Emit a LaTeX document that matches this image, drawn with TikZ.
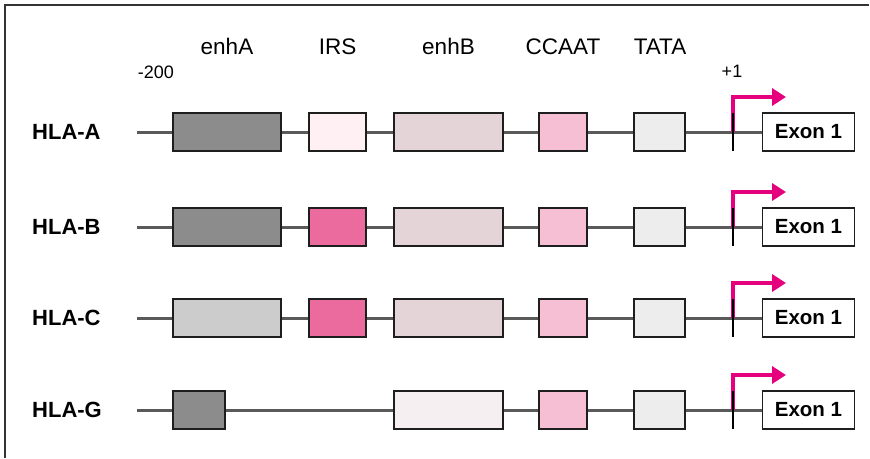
\documentclass[tikz,border=0pt]{standalone}
\usepackage{fontspec}
\setmainfont{Liberation Sans}
\usetikzlibrary{arrows.meta}
\definecolor{linegray}{HTML}{5A5A5A}
\definecolor{framegray}{HTML}{333333}
\definecolor{boxedge}{HTML}{1E1E1E}
\definecolor{dkgray}{HTML}{8C8C8C}
\definecolor{ltgray}{HTML}{CCCCCC}
\definecolor{palepink}{HTML}{FFF0F3}
\definecolor{hotpink}{HTML}{EC6B9E}
\definecolor{dustpink}{HTML}{E4D4D8}
\definecolor{whitepink}{HTML}{F6EFF1}
\definecolor{softpink}{HTML}{F7BFD3}
\definecolor{tatagray}{HTML}{EDEDED}
\definecolor{arrowpink}{HTML}{E5007D}
\tikzset{
  elem/.style={draw=boxedge, line width=1.8pt, minimum height=38pt, inner sep=0pt},
  backbone/.style={draw=linegray, line width=3pt},
  genelabel/.style={font=\bfseries\fontsize{22}{24}\selectfont, anchor=west, inner sep=0pt},
  toplabel/.style={font=\fontsize{22.5}{24}\selectfont, anchor=base, inner sep=0pt},
  poslabel/.style={font=\fontsize{18}{20}\selectfont, anchor=base, inner sep=0pt},
  exonbox/.style={draw=boxedge, line width=1.6pt, fill=white, minimum width=92pt, minimum height=38pt, inner sep=0pt, font=\bfseries\fontsize{20.5}{22}\selectfont},
  tss/.style={draw=arrowpink, line width=4.5pt, -{Triangle[length=14pt,width=17pt]}},
  tick/.style={draw=black, line width=1.4pt},
}
\begin{document}
\begin{tikzpicture}[x=1pt,y=-1pt]
\useasboundingbox (0,0) rectangle (870,458);
% frame (left and top only)
\draw[framegray, line width=2pt] (4.5,458) -- (4.5,4.5) -- (869,4.5);
% top labels
\node[toplabel] (lenhA) at (227,54) {enhA};
\node[toplabel] (lIRS) at (337.5,54) {IRS};
\node[toplabel] (lenhB) at (448.5,54) {enhB};
\node[toplabel] (lCCAAT) at (563,54) {CCAAT};
\node[toplabel] (lTATA) at (660,54) {TATA};
\node[poslabel] (m200) at (156,78) {-200};
\node[poslabel] (p1) at (732,77) {+1};
% rows: #1 name, #2 y, #3 label, #4 enhA colour, #5 enhA right, #6 IRS colour (n = absent), #7 enhB colour
\newcommand{\generow}[7]{%
  \node[genelabel] (lab#1) at (32,#2) {#3};
  \coordinate (s#1) at (137,#2);
  \node[exonbox] (ex#1) at (808.5,#2) {Exon 1};
  \draw[backbone] (s#1) -- (ex#1.west);
  \node[elem, fill=#4, minimum width={#5-173}] (ea#1) at ({(173+#5)/2},#2) {};
  \ifx#6n\else
  \node[elem, fill=#6, minimum width=57pt] (irs#1) at (337.5,#2) {};
  \fi
  \node[elem, fill=#7, minimum width=109pt] (eb#1) at (448.5,#2) {};
  \node[elem, fill=softpink, minimum width=48pt] (cc#1) at (563,#2) {};
  \node[elem, fill=tatagray, minimum width=51pt] (ta#1) at (659.5,#2) {};
  \coordinate (t#1) at (733,#2);
  \coordinate (tt#1) at (733,#2-19);
  \coordinate (tb#1) at (733,#2+19);
  \coordinate (ah#1) at (786,#2-35);
  \draw[tss] (t#1) |- (ah#1);
  \draw[tick] (tt#1) -- (tb#1);
}
\generow{A}{132}{HLA-A}{dkgray}{281}{palepink}{dustpink}
\generow{B}{227}{HLA-B}{dkgray}{281}{hotpink}{dustpink}
\generow{C}{318}{HLA-C}{ltgray}{281}{hotpink}{dustpink}
\generow{G}{410}{HLA-G}{dkgray}{225}{n}{whitepink}
\end{tikzpicture}
\end{document}
